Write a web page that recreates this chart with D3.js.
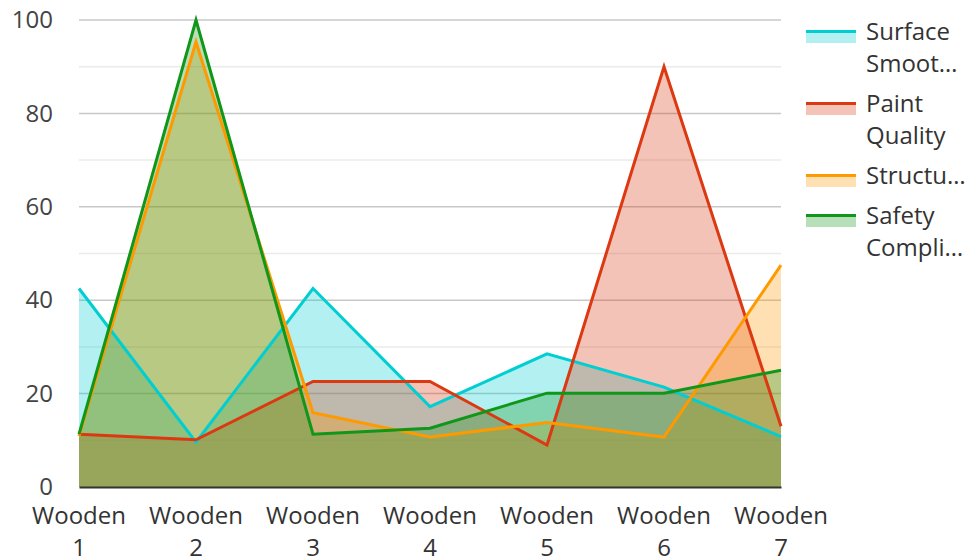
<!DOCTYPE html>
<html>
<head>
<meta charset="utf-8">
<script src="https://cdn.jsdelivr.net/npm/d3@7"></script>
<style>
  body { margin: 0; background: #fff; }
  text { font-family: "Open Sans", "Noto Sans", sans-serif; }
</style>
</head>
<body>
<script>
// categories along the x axis
var categories = ["Wooden 1", "Wooden 2", "Wooden 3", "Wooden 4", "Wooden 5", "Wooden 6", "Wooden 7"];

// series names (legend shows them cut short)
var seriesNames = ["Surface Smoothness", "Paint Quality", "Structural Integrity", "Safety Compliance"];
var legendLines = [["Surface", "Smoot\u2026"], ["Paint", "Quality"], ["Structu\u2026"], ["Safety", "Compli\u2026"]];
var seriesColors = ["#00ced1", "#dc3912", "#ff9900", "#109618"];

// values
var surfaceValues = [42.5, 9.6, 42.5, 17.2, 28.5, 21.4, 10.8];
var paintValues = [11.3, 10.1, 22.6, 22.6, 9.0, 90, 13];
var structureValues = [10.9, 95.3, 15.9, 10.7, 13.8, 10.7, 47.5];
var safetyValues = [11.3, 100, 11.3, 12.6, 20.1, 20.1, 25];
var allValues = [surfaceValues, paintValues, structureValues, safetyValues];

var yTicks = [0, 20, 40, 60, 80, 100];
var yMinorTicks = [10, 30, 50, 70, 90];

var w = 971, h = 558;
var margin = { left: 79, right: 190, top: 20, bottom: 71 };
var fontSize = 24;

var svg = d3.select("body").append("svg")
  .attr("width", w)
  .attr("height", h);

var xScale = d3.scalePoint()
  .domain(categories)
  .range([margin.left, w - margin.right]);

var yScale = d3.scaleLinear()
  .domain([0, 100])
  .range([h - margin.bottom, margin.top]);

// minor grid lines
svg.append("g").selectAll("line")
  .data(yMinorTicks)
  .enter().append("line")
  .attr("x1", margin.left).attr("x2", w - margin.right)
  .attr("y1", d => yScale(d)).attr("y2", d => yScale(d))
  .attr("stroke", "#ebebeb")
  .attr("stroke-width", 1.5);

// major grid lines
svg.append("g").selectAll("line")
  .data(yTicks.filter(d => d > 0))
  .enter().append("line")
  .attr("x1", margin.left).attr("x2", w - margin.right)
  .attr("y1", d => yScale(d)).attr("y2", d => yScale(d))
  .attr("stroke", "#c8c8c8")
  .attr("stroke-width", 1.5);

// y axis labels
var yAxis = d3.axisLeft(yScale).tickValues(yTicks).tickSize(0).tickPadding(26);
var gy = svg.append("g")
  .attr("transform", "translate(" + margin.left + ",0)")
  .call(yAxis);
gy.select(".domain").remove();
gy.selectAll("text")
  .attr("font-size", fontSize)
  .attr("fill", "#444")
  .attr("font-family", "'Open Sans', sans-serif");

var area = d3.area()
  .x((d, i) => xScale(categories[i]))
  .y0(yScale(0))
  .y1(d => yScale(d));

var line = d3.line()
  .x((d, i) => xScale(categories[i]))
  .y(d => yScale(d));

// all areas first, then the lines on top
allValues.forEach(function(vals, k) {
  svg.append("path")
    .datum(vals)
    .attr("d", area)
    .attr("fill", seriesColors[k])
    .attr("fill-opacity", 0.3);
});
allValues.forEach(function(vals, k) {
  svg.append("path")
    .datum(vals)
    .attr("d", line)
    .attr("fill", "none")
    .attr("stroke", seriesColors[k])
    .attr("stroke-width", 3);
});

// x axis
var xAxis = d3.axisBottom(xScale).tickSize(0).tickFormat("");
var gx = svg.append("g")
  .attr("transform", "translate(0," + yScale(0) + ")")
  .call(xAxis);
gx.select(".domain")
  .attr("stroke", "#333")
  .attr("stroke-width", 2);

// two-line category labels
var xl = svg.append("g").selectAll("text")
  .data(categories)
  .enter().append("text")
  .attr("text-anchor", "middle")
  .attr("font-size", fontSize)
  .attr("fill", "#333")
  .attr("x", d => xScale(d))
  .attr("y", 524);
xl.append("tspan").attr("x", d => xScale(d)).text(d => d.split(" ")[0]);
xl.append("tspan").attr("x", d => xScale(d)).attr("dy", 32).text(d => d.split(" ")[1]);

// legend
var legend = svg.append("g");
var ly = 30;
legendLines.forEach(function(lines, k) {
  legend.append("rect")
    .attr("x", 806).attr("y", ly + 1)
    .attr("width", 50).attr("height", 12)
    .attr("fill", seriesColors[k])
    .attr("fill-opacity", 0.3);
  legend.append("rect")
    .attr("x", 806).attr("y", ly)
    .attr("width", 50).attr("height", 3)
    .attr("fill", seriesColors[k]);
  var t = legend.append("text")
    .attr("font-size", fontSize)
    .attr("fill", "#333")
    .attr("y", ly + 10);
  t.append("title").text(seriesNames[k]);
  lines.forEach(function(s, j) {
    t.append("tspan")
      .attr("x", 866)
      .attr("dy", j === 0 ? 0 : 32)
      .text(s);
  });
  ly += lines.length * 32 + 8;
});
</script>
</body>
</html>
